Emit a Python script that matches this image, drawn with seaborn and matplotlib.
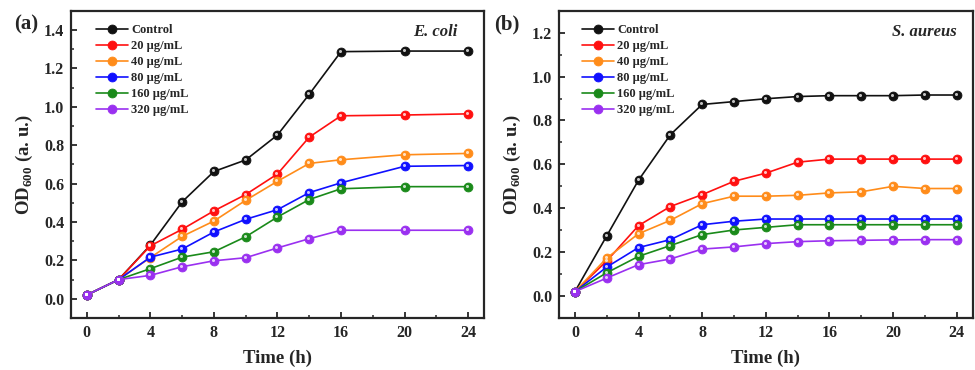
import numpy as np
import pandas as pd
import matplotlib
matplotlib.use("Agg")
import matplotlib.pyplot as plt
import matplotlib.transforms as mtransforms
from matplotlib.ticker import MultipleLocator
import seaborn as sns

# ---- data ----
groups = ["Control", "20 μg/mL", "40 μg/mL", "80 μg/mL", "160 μg/mL", "320 μg/mL"]
colors = ["#111111", "#ff1010", "#ff8c1a", "#1010ff", "#1a8a1a", "#9a30f0"]

time_ecoli = [0, 2, 4, 6, 8, 10, 12, 14, 16, 20, 24]
ecoli_control = [0.02, 0.10, 0.28, 0.505, 0.663, 0.723, 0.853, 1.065, 1.287, 1.29, 1.29]
ecoli_20 = [0.02, 0.10, 0.276, 0.362, 0.458, 0.543, 0.650, 0.842, 0.953, 0.957, 0.963]
ecoli_40 = [0.02, 0.10, 0.215, 0.325, 0.405, 0.513, 0.612, 0.705, 0.724, 0.750, 0.757]
ecoli_80 = [0.02, 0.10, 0.217, 0.259, 0.348, 0.414, 0.464, 0.553, 0.604, 0.690, 0.694]
ecoli_160 = [0.02, 0.10, 0.157, 0.217, 0.245, 0.323, 0.426, 0.517, 0.573, 0.584, 0.584]
ecoli_320 = [0.02, 0.10, 0.122, 0.167, 0.198, 0.214, 0.265, 0.313, 0.357, 0.357, 0.357]

time_saureus = [0, 2, 4, 6, 8, 10, 12, 14, 16, 18, 20, 22, 24]
saureus_control = [0.02, 0.274, 0.528, 0.735, 0.873, 0.886, 0.899, 0.909, 0.913, 0.913, 0.913, 0.916, 0.916]
saureus_20 = [0.02, 0.160, 0.321, 0.408, 0.462, 0.523, 0.560, 0.610, 0.624, 0.624, 0.624, 0.624, 0.624]
saureus_40 = [0.02, 0.173, 0.284, 0.345, 0.421, 0.455, 0.455, 0.459, 0.470, 0.475, 0.500, 0.490, 0.490]
saureus_80 = [0.02, 0.132, 0.221, 0.257, 0.325, 0.341, 0.351, 0.351, 0.351, 0.351, 0.351, 0.351, 0.351]
saureus_160 = [0.02, 0.106, 0.181, 0.230, 0.280, 0.301, 0.313, 0.325, 0.325, 0.325, 0.325, 0.325, 0.325]
saureus_320 = [0.02, 0.082, 0.143, 0.169, 0.214, 0.224, 0.239, 0.248, 0.252, 0.254, 0.256, 0.257, 0.257]

ecoli_series = [ecoli_control, ecoli_20, ecoli_40, ecoli_80, ecoli_160, ecoli_320]
saureus_series = [saureus_control, saureus_20, saureus_40, saureus_80, saureus_160, saureus_320]


def to_long(times, series):
    rows = []
    for name, vals in zip(groups, series):
        for t, v in zip(times, vals):
            rows.append({"Time": t, "OD": v, "Group": name})
    return pd.DataFrame(rows)


df_ecoli = to_long(time_ecoli, ecoli_series)
df_saureus = to_long(time_saureus, saureus_series)

# ---- style ----
sns.set_theme(style="ticks")
plt.rcParams["font.family"] = ["Liberation Serif", "DejaVu Serif"]
plt.rcParams["font.weight"] = "bold"
plt.rcParams["mathtext.fontset"] = "custom"
plt.rcParams["mathtext.rm"] = "Liberation Serif:bold"
plt.rcParams["mathtext.bf"] = "Liberation Serif:bold"
plt.rcParams["axes.linewidth"] = 1.5

fig = plt.figure(figsize=(9.75, 3.7), dpi=100)
ax_a = fig.add_axes([0.0728, 0.1405, 0.4236, 0.8305])
ax_b = fig.add_axes([0.5733, 0.1405, 0.4243, 0.8305])

palette = dict(zip(groups, colors))


def draw(ax, df, ylim, yticks, species, species_x, legend_x):
    sns.lineplot(data=df, x="Time", y="OD", hue="Group", hue_order=groups,
                 palette=palette, marker="o", markersize=6.4, linewidth=1.2,
                 markeredgewidth=0.6, markeredgecolor=None, ax=ax,
                 legend=True, zorder=3)
    # glossy highlight on each marker
    offset = mtransforms.ScaledTranslation(-1.0 / 100, 1.0 / 100, fig.dpi_scale_trans)
    for name in groups:
        sub = df[df["Group"] == name]
        ax.plot(sub["Time"], sub["OD"], linestyle="none", marker="o",
                markersize=2.2, color="white", alpha=0.75,
                markeredgewidth=0, transform=ax.transData + offset, zorder=4)
    ax.set_xlim(-1, 25)
    ax.set_ylim(*ylim)
    ax.set_xticks([0, 4, 8, 12, 16, 20, 24])
    ax.xaxis.set_minor_locator(MultipleLocator(2))
    ax.set_yticks(yticks)
    ax.yaxis.set_minor_locator(MultipleLocator(0.1))
    ax.tick_params(which="major", direction="in", length=4.5, width=1.3,
                   labelsize=11.5, pad=5)
    ax.tick_params(which="minor", direction="in", length=2.5, width=1.1)
    for lab in ax.get_xticklabels() + ax.get_yticklabels():
        lab.set_fontweight("bold")
    ax.set_xlabel("Time (h)", fontsize=13.5, fontweight="bold", labelpad=6)
    ax.set_ylabel(r"OD$_{600}$ (a. u.)", fontsize=13.5, fontweight="bold", labelpad=6)
    for sp in ax.spines.values():
        sp.set_linewidth(1.6)
        sp.set_visible(True)
    ax.text(species_x, 0.932, species, transform=ax.transAxes, ha="right", va="center",
            fontsize=12, fontweight="bold", style="italic")
    handles, labels = ax.get_legend_handles_labels()
    ax.legend(handles, labels, loc="upper left", bbox_to_anchor=(legend_x, 0.98),
              frameon=False, handlelength=2.6, handletextpad=0.25,
              labelspacing=0.32, borderaxespad=0.2,
              prop={"weight": "bold", "size": 9})


draw(ax_a, df_ecoli, (-0.1, 1.5), np.round(np.arange(0, 1.41, 0.2), 1),
     "E. coli", 0.937, 0.042)
draw(ax_b, df_saureus, (-0.1, 1.3), np.round(np.arange(0, 1.21, 0.2), 1),
     "S. aureus", 0.961, 0.037)

fig.text(0.014, 0.935, "(a)", fontsize=15, fontweight="bold", va="center")
fig.text(0.507, 0.935, "(b)", fontsize=15, fontweight="bold", va="center")

fig.savefig("out.png", dpi=100, facecolor="white")
